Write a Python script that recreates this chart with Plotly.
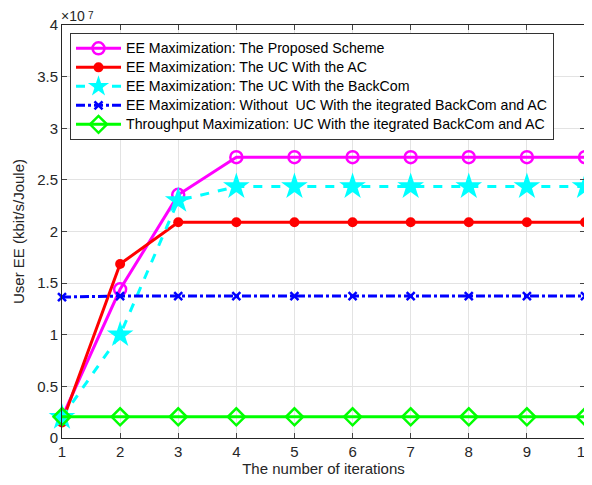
import plotly.graph_objects as go

iterations = [1, 2, 3, 4, 5, 6, 7, 8, 9, 10]
proposed = [0.2e7, 1.44e7, 2.355e7, 2.72e7, 2.72e7, 2.72e7, 2.72e7, 2.72e7, 2.72e7, 2.72e7]
uc_ac = [0.15e7, 1.685e7, 2.09e7, 2.09e7, 2.09e7, 2.09e7, 2.09e7, 2.09e7, 2.09e7, 2.09e7]
uc_backcom = [0.2e7, 1.0e7, 2.3e7, 2.435e7, 2.435e7, 2.435e7, 2.435e7, 2.435e7, 2.435e7, 2.435e7]
without_uc = [1.365e7, 1.375e7, 1.375e7, 1.375e7, 1.375e7, 1.375e7, 1.375e7, 1.375e7, 1.375e7, 1.375e7]
throughput = [0.205e7] * 10

names = [
    "EE Maximization: The Proposed Scheme",
    "EE Maximization: The UC With the AC",
    "EE Maximization: The UC With the BackCom",
    "EE Maximization: Without  UC With the itegrated BackCom and AC",
    "Throughput Maximization: UC With the itegrated BackCom and AC",
]
ytick_vals = [0, 0.5e7, 1e7, 1.5e7, 2e7, 2.5e7, 3e7, 3.5e7, 4e7]
ytick_text = ["0", "0.5", "1", "1.5", "2", "2.5", "3", "3.5", "4"]

FONT = "Liberation Sans, Arial, sans-serif"


def legend_label(s):
    return '<span style="font-size:14.2px">' + s + "</span>"


fig = go.Figure()

fig.add_trace(go.Scatter(x=iterations, y=proposed, name=legend_label(names[0]), mode="lines+markers", cliponaxis=False,
                         line=dict(color="#ff00ff", width=3),
                         marker=dict(symbol="circle-open", size=12, color="#ff00ff", line=dict(width=2.5))))
fig.add_trace(go.Scatter(x=iterations, y=uc_ac, name=legend_label(names[1]), mode="lines+markers", cliponaxis=False,
                         line=dict(color="#ff0000", width=3),
                         marker=dict(symbol="circle", size=10, color="#ff0000")))
fig.add_trace(go.Scatter(x=iterations, y=uc_backcom, name=legend_label(names[2]), mode="lines+markers", cliponaxis=False,
                         line=dict(color="#00ffff", width=3, dash="dash"),
                         marker=dict(symbol="star", size=20, color="#00ffff", line=dict(width=0))))
fig.add_trace(go.Scatter(x=iterations, y=without_uc, name=legend_label(names[3]), mode="lines+markers", cliponaxis=False,
                         line=dict(color="#0000ff", width=3, dash="dashdot"),
                         marker=dict(symbol="x-thin-open", size=8, color="#0000ff", line=dict(width=2.5, color="#0000ff"))))
fig.add_trace(go.Scatter(x=iterations, y=throughput, name=legend_label(names[4]), mode="lines+markers", cliponaxis=False,
                         line=dict(color="#00ff00", width=3),
                         marker=dict(symbol="diamond-open", size=13, color="#00ff00", line=dict(width=2.5))))

fig.update_layout(
    width=584, height=477,
    margin=dict(l=54, r=7, t=17, b=47),
    paper_bgcolor="white", plot_bgcolor="white",
    font=dict(family=FONT, size=14, color="#262626"),
    showlegend=True,
    legend=dict(x=0.0153, y=0.981, xanchor="left", yanchor="top",
                bgcolor="white", bordercolor="#333333", borderwidth=1,
                font=dict(size=11.3, color="black"), tracegroupgap=0,
                itemwidth=45),
    xaxis=dict(range=[1, 10], tickvals=iterations, ticks="inside", ticklen=5,
               showline=True, linecolor="#262626", linewidth=1, mirror="ticks",
               showgrid=True, gridcolor="#e3e3e3", zeroline=False,
               ticklabeloverflow="allow", automargin=False,
               title=dict(text="The number of iterations", font=dict(size=15), standoff=4),
               tickfont=dict(size=15)),
    yaxis=dict(range=[0, 4e7], tickvals=ytick_vals, ticktext=ytick_text, ticks="inside", ticklen=5,
               showline=True, linecolor="#262626", linewidth=1, mirror="ticks",
               showgrid=True, gridcolor="#e3e3e3", zeroline=False, automargin=False,
               title=dict(text="User EE (kbit/s/Joule)", font=dict(size=15), standoff=8),
               tickfont=dict(size=15)),
)
fig.add_annotation(x=0, y=1, xref="paper", yref="paper", xanchor="left", yanchor="bottom",
                   text="\u00d710", showarrow=False, font=dict(size=14, color="#262626"),
                   xshift=-3, yshift=-1)
fig.add_annotation(x=0, y=1, xref="paper", yref="paper", xanchor="left", yanchor="top",
                   text="7", showarrow=False, font=dict(size=10, color="#262626"),
                   xshift=24, yshift=17)

fig.write_html("out.html")
